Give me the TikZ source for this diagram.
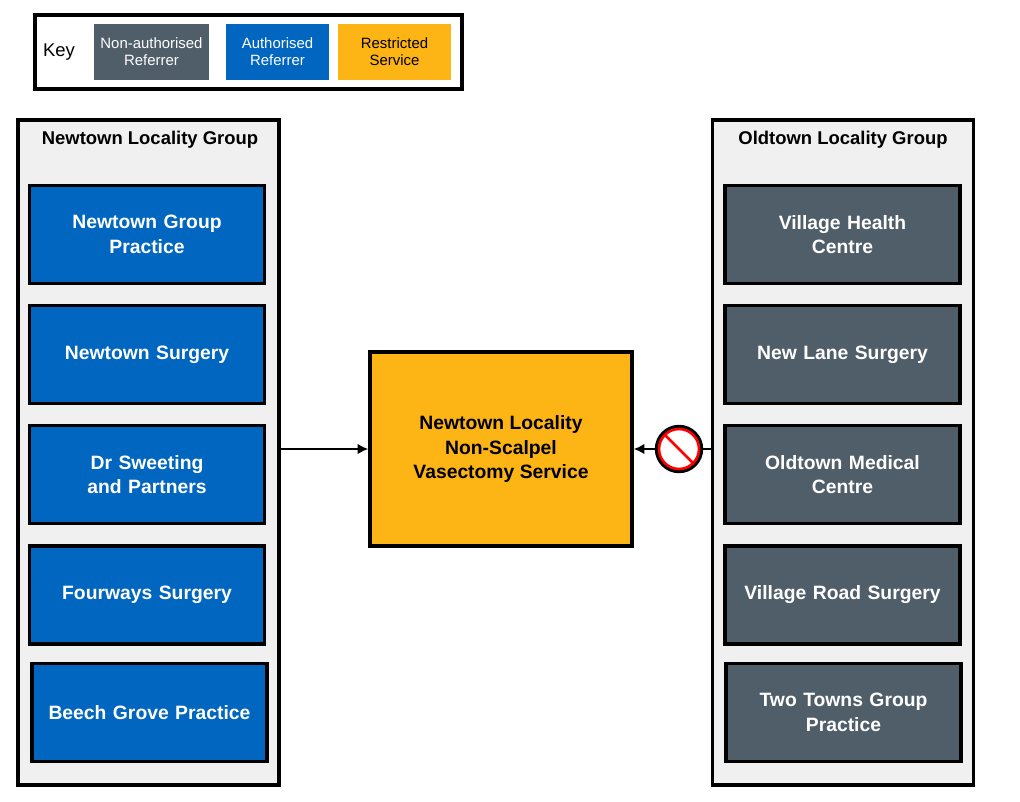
\documentclass[tikz,border=0pt]{standalone}
\usepackage{fontspec}
\setmainfont{Liberation Sans}
\usetikzlibrary{arrows.meta,calc}
\definecolor{authblue}{RGB}{0,102,192}
\definecolor{nonauth}{RGB}{80,94,106}
\definecolor{restrict}{RGB}{253,181,21}
\definecolor{groupbg}{RGB}{240,240,240}
\begin{document}
\begin{tikzpicture}[
  x=0.02cm, y=-0.02cm,
  practice/.style={draw=black, line width=2pt, minimum width=4.7cm, minimum height=1.96cm,
    text width=4.3cm, align=center, text=white, font=\fontsize{11}{14}\selectfont\bfseries},
  auth/.style={practice, fill=authblue},
  nonauth/.style={practice, fill=nonauth},
  group/.style={draw=black, line width=2pt, fill=groupbg, minimum width=5.22cm, minimum height=13.3cm},
  keybox/.style={minimum height=1.12cm, align=center, font=\fontsize{8.5}{9.5}\selectfont},
  link/.style={line width=1.5pt, -{Latex[length=6pt,width=6pt]}}
  ]
  \useasboundingbox (0,0) rectangle (1020,801);
  % key
  \node[draw=black, line width=2.5pt, minimum width=8.55cm, minimum height=1.48cm] (key) at (248.5,52) {};
  \node[font=\fontsize{10.5}{12}\selectfont] (keylabel) at (59,52) {Key};
  \node[keybox, fill=nonauth, text=white, minimum width=2.3cm] (keynon) at (151.5,52) {Non-authorised\\Referrer};
  \node[keybox, fill=authblue, text=white, minimum width=2.06cm] (keyauth) at (277.5,52) {Authorised\\Referrer};
  \node[keybox, fill=restrict, minimum width=2.26cm] (keyrest) at (394.5,52) {Restricted\\Service};

  % groups
  \node[group] (newtown) at (148.5,452.5) {};
  \node[group] (oldtown) at (843,452.5) {};
  \node[font=\fontsize{10.5}{12}\selectfont\bfseries] (newtitle) at (150,140) {Newtown Locality Group};
  \node[font=\fontsize{10.5}{12}\selectfont\bfseries] (oldtitle) at (843,140) {Oldtown Locality Group};

  \node[auth] (n1) at (147,234.5) {Newtown Group\\Practice};
  \node[auth] (n2) at (147,354.5) {Newtown Surgery};
  \node[auth] (n3) at (147,474.5) {Dr Sweeting\\and Partners};
  \node[auth] (n4) at (147,595) {Fourways Surgery};
  \node[auth] (n5) at (149.5,712.5) {Beech Grove Practice};

  \node[nonauth] (o1) at (842.5,234.5) {Village Health\\Centre};
  \node[nonauth] (o2) at (842.5,354.5) {New Lane Surgery};
  \node[nonauth] (o3) at (842.5,474.5) {Oldtown Medical\\Centre};
  \node[nonauth] (o4) at (842.5,595) {Village Road Surgery};
  \node[nonauth] (o5) at (843.5,712.5) {Two Towns Group\\Practice};

  % service
  \node[draw=black, line width=2pt, fill=restrict, minimum width=5.24cm, minimum height=3.88cm,
    align=center, font=\fontsize{11}{14}\selectfont\bfseries] (service) at (501,449)
    {Newtown Locality\\Non-Scalpel\\Vasectomy Service};

  \draw[link] (newtown.east |- service) -- (service.west);
  \draw[link] (oldtown.west |- service) -- (service.east);
  \coordinate (noentry) at (679,449);
  \fill[white] (noentry) circle (0.48cm);
  \draw[black, line width=2.5pt] (noentry) circle (0.44cm);
  \draw[red, line width=1.5pt] (noentry) circle (0.40cm);
  \draw[red, line width=1.5pt] ($(noentry)+(-14,-14)$) -- ($(noentry)+(14,14)$);
\end{tikzpicture}
\end{document}
